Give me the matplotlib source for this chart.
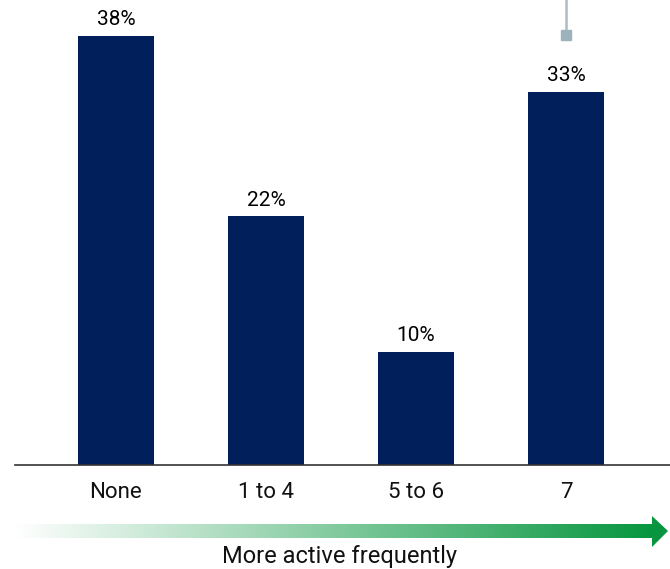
import numpy as np
import matplotlib
matplotlib.use("Agg")
import matplotlib.pyplot as plt
from matplotlib.colors import LinearSegmentedColormap
from matplotlib.patches import Polygon

plt.rcParams["font.family"] = ["Roboto", "DejaVu Sans"]

CATEGORIES = ["None", "1 to 4", "5 to 6", "7"]
SHARES = [38, 22, 10, 33]
AXIS_TITLE = "More active frequently"

NAVY = "#001f5b"
GREEN = "#07963f"
W, H = 670, 569
PX_PER_PCT = 11.3

fig = plt.figure(figsize=(W / 100, H / 100), dpi=100)

# bar axes: baseline at 465 px from top, spanning x 15..670
ax = fig.add_axes([15 / W, (H - 465) / H, 655 / W, 465 / H])
x = np.arange(len(CATEGORIES))
ax.bar(x, SHARES, width=0.507, color=NAVY, zorder=2)
for xi, v in zip(x, SHARES):
    ax.text(xi, v + 0.6, f"{v}%", ha="center", va="bottom",
            fontsize=15, fontweight="normal", color="#000000")
ax.set_xlim(-0.673, 3.693)
ax.set_ylim(0, 465 / PX_PER_PCT)
for s in ["top", "right", "left"]:
    ax.spines[s].set_visible(False)
ax.spines["bottom"].set_color("#333333")
ax.spines["bottom"].set_linewidth(1.2)
ax.set_yticks([])
ax.set_xticks(x)
ax.set_xticklabels(CATEGORIES, fontsize=16, color="#111111")
ax.tick_params(axis="x", length=0, pad=12)

# callout line above the last bar
top = 465 / PX_PER_PCT
mark = (465 - 35) / PX_PER_PCT
ax.plot([3, 3], [mark, top], color="#a9bdc8", lw=1.8, clip_on=False, zorder=1)
ax.plot([3], [mark], marker="s", ms=7, color="#9cb2bd", clip_on=False, zorder=1)

# gradient arrow under the categories, in pixel coordinates
ov = fig.add_axes([0, 0, 1, 1], facecolor="none")
ov.axis("off")
cmap = LinearSegmentedColormap.from_list("fade", ["#ffffff", GREEN])
grad = np.linspace(0, 1, 256).reshape(1, -1)
ov.imshow(grad, cmap=cmap, extent=[15, 653, 538, 524], aspect="auto",
          interpolation="bilinear")
ov.add_patch(Polygon([[652, 516], [668, 531], [652, 547]], closed=True,
                     color=GREEN, lw=0))
ov.set_xlim(0, W)
ov.set_ylim(H, 0)
ov.text(340, 557, AXIS_TITLE, ha="center", va="center", fontsize=17,
        color="#111111")

fig.savefig("out.png", dpi=100)
